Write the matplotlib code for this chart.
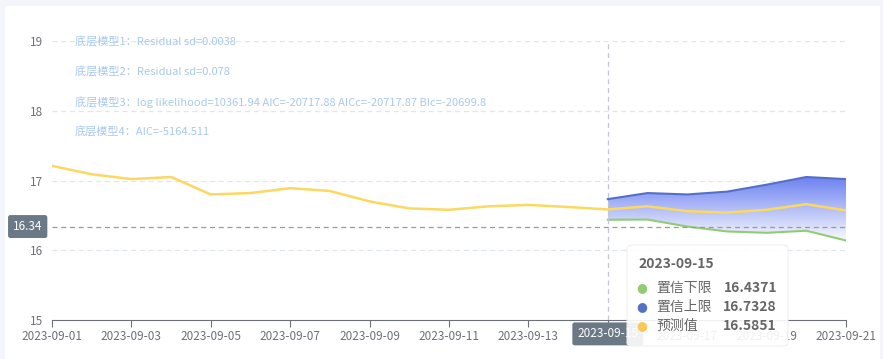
import numpy as np
import matplotlib
matplotlib.use("Agg")
import matplotlib.pyplot as plt
from matplotlib.patches import FancyBboxPatch, Rectangle
from matplotlib.colors import LinearSegmentedColormap

plt.rcParams['font.family'] = ['Noto Sans CJK SC', 'DejaVu Sans']

# 数据
dates = ['2023-09-%02d' % d for d in range(1, 22)]
pred = [17.21, 17.09, 17.02, 17.05, 16.80, 16.82, 16.89, 16.85, 16.70, 16.60, 16.58,
        16.63, 16.65, 16.62, 16.5851, 16.63, 16.56, 16.54, 16.58, 16.66, 16.57]
fc_dates = dates[14:]
upper = [16.7328, 16.82, 16.80, 16.84, 16.94, 17.05, 17.02]
lower = [16.4371, 16.44, 16.34, 16.27, 16.25, 16.28, 16.14]
notes = ['底层模型1：Residual sd=0.0038',
         '底层模型2：Residual sd=0.078',
         '底层模型3：log likelihood=10361.94 AIC=-20717.88 AICc=-20717.87 BIc=-20699.8',
         '底层模型4：AIC=-5164.511']
pointer_date = '2023-09-15'
pointer_y = 16.34
tip_names = ['置信下限', '置信上限', '预测值']
tip_vals = ['16.4371', '16.7328', '16.5851']

W, H = 883, 359
fig = plt.figure(figsize=(W / 100, H / 100), dpi=100)
fig.patch.set_facecolor('#f4f5fa')
fig.patches.append(Rectangle((5 / W, 0), 875 / W, 353 / H, transform=fig.transFigure,
                             facecolor='white', edgecolor='none', zorder=-5))

ax = fig.add_axes([52 / W, (H - 320) / H, (846 - 52) / W, (320 - 41) / H])
ax.set_facecolor('none')

x = np.arange(len(dates))
xf = np.array([dates.index(d) for d in fc_dates])

ax.set_xlim(0, len(dates) - 1)
ax.set_ylim(15, 19)
ax.set_yticks([15, 16, 17, 18, 19])
ax.set_xticks(x[::2])
ax.set_xticklabels(dates[::2])
for s in ['top', 'right', 'left']:
    ax.spines[s].set_visible(False)
ax.spines['bottom'].set_color('#6e7079')
ax.tick_params(axis='y', length=0, pad=6.5, labelsize=8.5, labelcolor='#6e7079')
ax.tick_params(axis='x', length=5, color='#6e7079', pad=2, labelsize=8.5, labelcolor='#6e7079')
for yv in [16, 17, 18, 19]:
    ax.axhline(yv, color='#e0e6f1', lw=0.9, ls=(0, (4, 3)), zorder=1)

# 置信区间渐变填充
band = ax.fill_between(xf, lower, upper, facecolor='none', edgecolor='none')
cmap = LinearSegmentedColormap.from_list('g', ['#ffffff', '#6a80f0'])
grad = np.linspace(0, 1, 256).reshape(-1, 1)
img = ax.imshow(grad, cmap=cmap, aspect='auto', origin='lower',
                extent=[xf[0], xf[-1], 16.1, max(upper)], zorder=2)
img.set_clip_path(band.get_paths()[0], transform=ax.transData)

ax.plot(xf, upper, color='#5470c6', lw=1.5, zorder=3)
ax.plot(xf, lower, color='#91cc75', lw=1.5, zorder=3)
ax.plot(x, pred, color='#fcd860', lw=1.8, zorder=4)

# 十字指示线
px = dates.index(pointer_date)
ax.axvline(px, color='#c4c7d2', lw=0.9, ls=(0, (4, 3)), zorder=5)
ax.axhline(pointer_y, color='#9a9a9a', lw=0.9, ls=(0, (4, 3)), zorder=5)
box = dict(boxstyle='round,pad=0.42,rounding_size=0.2', fc='#6a7985', ec='none')
ax.annotate('%.2f' % pointer_y, xy=(0, pointer_y), xycoords=('axes fraction', 'data'),
            xytext=(-17.5, 0), textcoords='offset points', ha='center', va='center',
            fontsize=8.5, color='white', bbox=box, zorder=6, annotation_clip=False)
ax.annotate(pointer_date, xy=(px, 15), xycoords='data', xytext=(0, -10),
            textcoords='offset points', ha='center', va='center', fontsize=8.5, color='white',
            bbox=box, zorder=6, annotation_clip=False)

for i, t in enumerate(notes):
    fig.text(75 / W, 1 - (42 + 30 * i) / H, t, fontsize=8, color='#a8c8f0',
             ha='left', va='center')

# 提示框
tip = FancyBboxPatch((627 / W, (H - 346) / H), 161 / W, 101 / H,
                     boxstyle='round,pad=0,rounding_size=0.008',
                     transform=fig.transFigure, fc='white', ec='#eeeeee', lw=0.8,
                     alpha=0.9, zorder=10)
fig.patches.append(tip)
fig.text(638 / W, 1 - 264 / H, pointer_date, fontsize=10, fontweight='bold',
         color='#666666', va='center', zorder=11)
dot_cols = ['#91cc75', '#5470c6', '#fac858']
for i in range(3):
    yy = 1 - (288 + 19 * i) / H
    fig.text(642 / W, yy, '●', fontsize=9, color=dot_cols[i], ha='center', va='center',
             family='DejaVu Sans', zorder=11)
    fig.text(656 / W, yy, tip_names[i], fontsize=10, color='#666666', va='center', zorder=11)
    fig.text(777 / W, yy, tip_vals[i], fontsize=10, fontweight='bold', color='#666666',
             ha='right', va='center', zorder=11)

fig.savefig('out.png', dpi=100, facecolor=fig.get_facecolor())
